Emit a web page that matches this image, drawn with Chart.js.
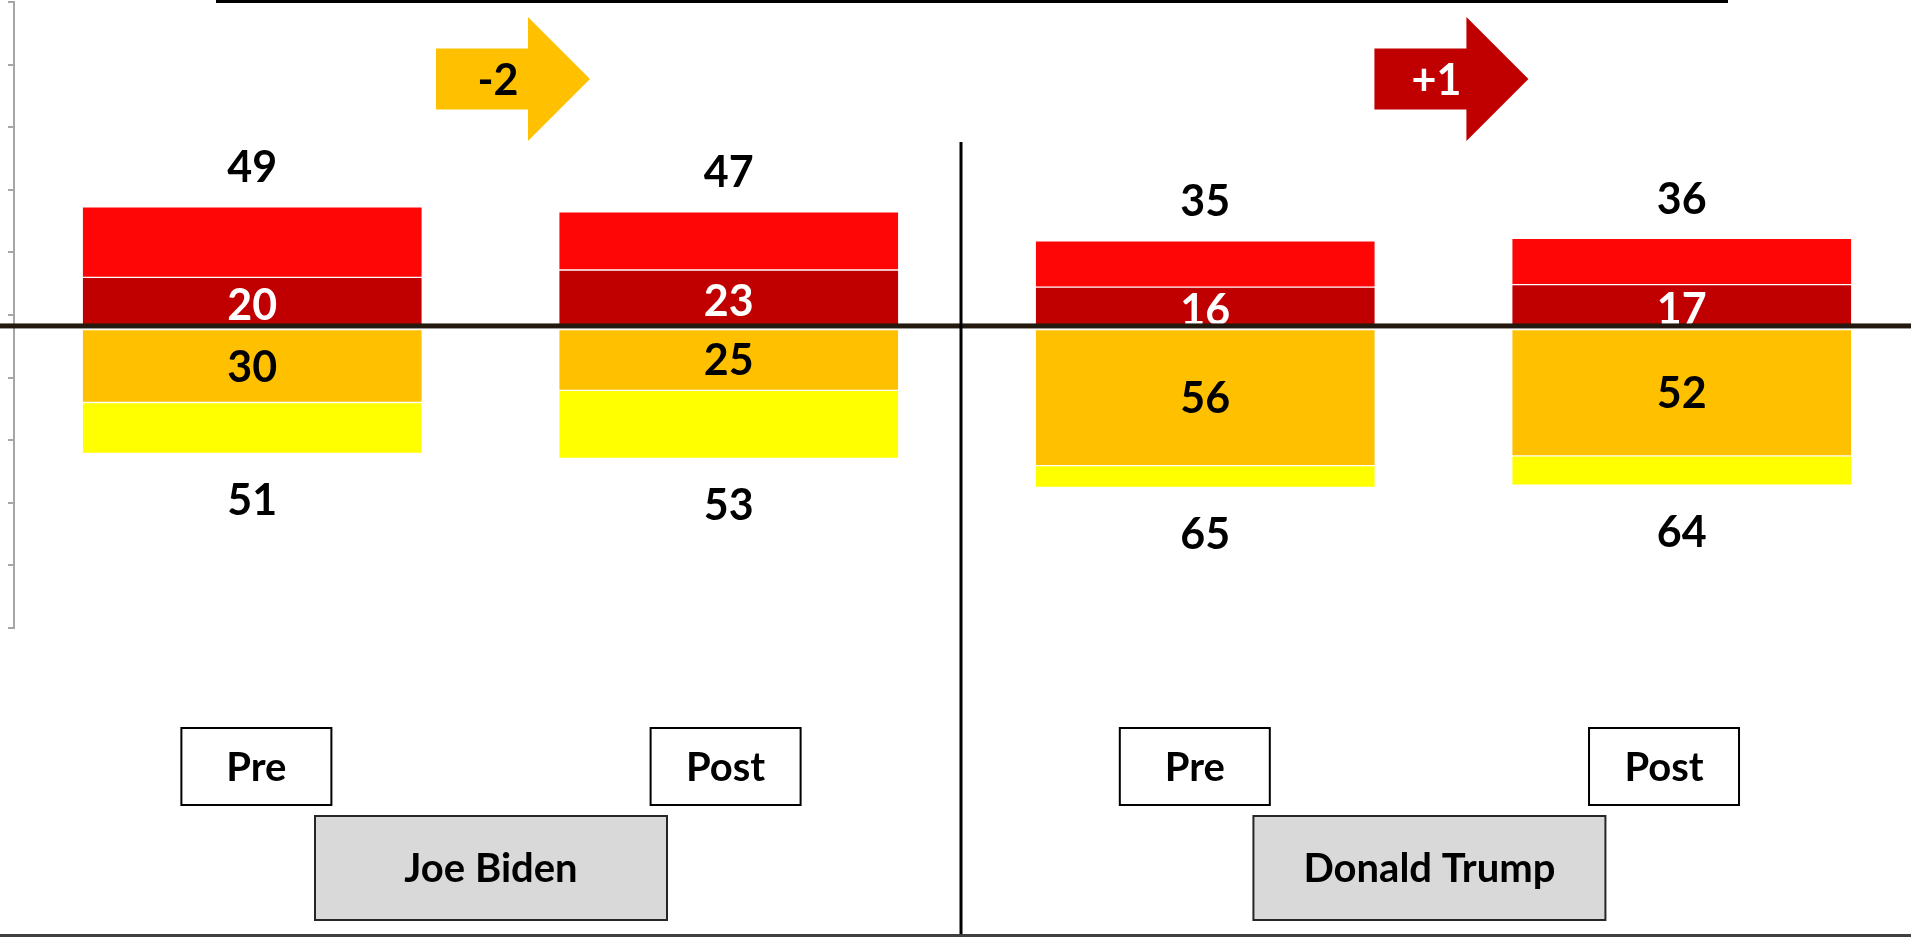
<!DOCTYPE html>
<html><head><meta charset="utf-8">
<script src="https://cdn.jsdelivr.net/npm/chart.js@4.4.1/dist/chart.umd.min.js"></script>
<style>html,body{margin:0;padding:0;overflow:hidden;background:#fff;width:1911px;height:937px}canvas{display:block}</style>
</head><body><canvas id="c" width="1920" height="937"></canvas>
<script>
// ---- data ----
const candidates = ['Joe Biden', 'Donald Trump'];
const phases = ['Pre', 'Post', 'Pre', 'Post'];
const strongNeg = [20, 23, 16, 17];   // dark red segment (labelled)
const totalNeg  = [49, 47, 35, 36];   // total above the zero line
const strongPos = [30, 25, 56, 52];   // orange segment (labelled)
const totalPos  = [51, 53, 65, 64];   // total below the zero line

// ---- style ----
const FONT = 'Lato, "Open Sans", sans-serif';
const NUM = 43, LBL = 40;
const GAP = 1.5;            // small white gap under the zero line (value units)
const C_DARKRED = '#C00000', C_RED = '#FF0606', C_ORANGE = '#FFC000', C_YELLOW = '#FFFF00';

function txt(ctx, s, x, y, size, color) {
  ctx.font = `bold ${size}px ${FONT}`;
  ctx.fillStyle = color; ctx.textAlign = 'center'; ctx.textBaseline = 'alphabetic';
  ctx.fillText(s, x, y + size * 0.36);
}
function arrow(ctx, left, cy, color) {
  const shaftLen = 92, len = 154, shaftH = 61, headH = 124;
  ctx.fillStyle = color;
  ctx.beginPath();
  ctx.moveTo(left, cy - shaftH / 2);
  ctx.lineTo(left + shaftLen, cy - shaftH / 2);
  ctx.lineTo(left + shaftLen, cy - headH / 2);
  ctx.lineTo(left + len, cy);
  ctx.lineTo(left + shaftLen, cy + headH / 2);
  ctx.lineTo(left + shaftLen, cy + shaftH / 2);
  ctx.lineTo(left, cy + shaftH / 2);
  ctx.closePath(); ctx.fill();
}
function box(ctx, cx, top, w, h, fill, stroke, label, size) {
  ctx.fillStyle = fill;
  ctx.fillRect(cx - w / 2, top, w, h);
  ctx.lineWidth = 2; ctx.strokeStyle = stroke;
  ctx.strokeRect(cx - w / 2, top, w, h);
  txt(ctx, label, cx, top + h / 2, size, '#000');
}
// annotation row sits on a slightly tighter grid than the bars
const annX = px => px * 0.9847 + 8;

const decor = {
  id: 'decor',
  afterDatasetsDraw(chart) {
    const ctx = chart.ctx, xs = chart.scales.x, ys = chart.scales.y;
    const W = chart.width;
    ctx.save();
    for (let i = 0; i < phases.length; i++) {
      const x = xs.getPixelForValue(i);
      txt(ctx, String(totalNeg[i]), x, ys.getPixelForValue(totalNeg[i]) - 40, NUM, '#000');
      txt(ctx, String(strongNeg[i]), x, ys.getPixelForValue(strongNeg[i] / 2) + 3, NUM, '#fff');
      txt(ctx, String(strongPos[i]), x, ys.getPixelForValue(-GAP - strongPos[i] / 2), NUM, '#000');
      txt(ctx, String(totalPos[i]), x, ys.getPixelForValue(-GAP - totalPos[i]) + 46, NUM, '#000');
      box(ctx, annX(x), 728, 150, 77, '#fff', '#000', phases[i], LBL);
    }
    // zero line
    const y0 = ys.getPixelForValue(0);
    ctx.fillStyle = '#24190e';
    ctx.fillRect(0, y0 - 2.5, W, 5);
    // vertical divider
    const xd = xs.getPixelForValue(1.5) - 6;
    ctx.fillStyle = '#000';
    ctx.fillRect(xd - 1.5, 142, 3, 937 - 142);
    // top line and bottom line
    ctx.fillRect(216, 0, 1728 - 216, 3);
    ctx.fillStyle = '#404040';
    ctx.fillRect(0, 934, W, 3);
    // arrows: change in total above the line; candidate boxes
    for (let g = 0; g < candidates.length; g++) {
      const mid = annX((xs.getPixelForValue(2 * g) + xs.getPixelForValue(2 * g + 1)) / 2);
      const delta = totalNeg[2 * g + 1] - totalNeg[2 * g];
      const neg = delta < 0;
      arrow(ctx, mid - 55, 79, neg ? C_ORANGE : C_DARKRED);
      txt(ctx, (delta > 0 ? '+' : '') + delta, mid + 7, 80, NUM, neg ? '#000' : '#fff');
      box(ctx, mid, 816, 352, 104, '#D9D9D9', '#262626', candidates[g], LBL);
    }
    ctx.restore();
  }
};

function build() {
  new Chart(document.getElementById('c'), {
    type: 'bar',
    data: {
      labels: phases,
      datasets: [
        { label: 'strongNeg', data: strongNeg.map(v => [0, v]), backgroundColor: C_DARKRED },
        { label: 'restNeg', data: strongNeg.map((v, i) => [v, totalNeg[i]]), backgroundColor: C_RED },
        { label: 'strongPos', data: strongPos.map(v => [-GAP, -GAP - v]), backgroundColor: C_ORANGE },
        { label: 'restPos', data: strongPos.map((v, i) => [-GAP - v, -GAP - totalPos[i]]), backgroundColor: C_YELLOW }
      ]
    },
    options: {
      responsive: false, animation: false,
      layout: { padding: { left: 8, right: 0, top: 2, bottom: 309 } },
      datasets: { bar: { grouped: false, barThickness: 340, borderWidth: 1, borderColor: '#fff', borderSkipped: false } },
      plugins: { legend: { display: false }, tooltip: { enabled: false } },
      scales: {
        x: { display: false },
        y: { display: false, min: -124.3, max: 133.3 },
        frame: {
          type: 'linear', position: 'left', min: 0, max: 10,
          ticks: { display: false, stepSize: 1 },
          grid: { drawOnChartArea: false, drawTicks: true, tickLength: 6, color: '#a6a6a6', lineWidth: 2 },
          border: { display: true, color: '#a6a6a6', width: 2 }
        }
      }
    },
    plugins: [decor]
  });
}
if (document.fonts && document.fonts.load) {
  document.fonts.load('bold 40px Lato').then(build, build);
} else build();
</script>
</body></html>
